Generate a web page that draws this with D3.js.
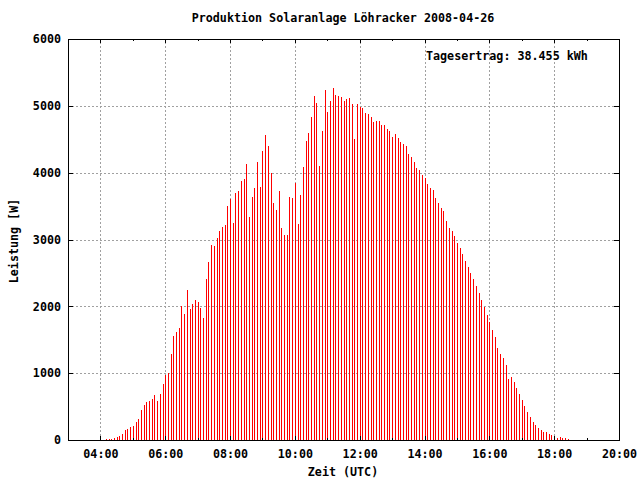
<!DOCTYPE html>
<html><head><meta charset="utf-8">
<script src="https://cdn.jsdelivr.net/npm/d3@7"></script>
<style>
body{margin:0;background:#fff}
text{font-family:"DejaVu Sans Mono",monospace;font-weight:bold;font-size:11.7px;fill:#000}
</style>
</head><body><svg id="c" width="640" height="480" style="background:#fff"></svg>
<script>
// 5-minute sample times (UTC)
const times = [
"04:10","04:15","04:20","04:25","04:30","04:35","04:40","04:45","04:50","04:55",
"05:00","05:05","05:10","05:15","05:20","05:25","05:30","05:35","05:40","05:45","05:50","05:55",
"06:00","06:05","06:10","06:15","06:20","06:25","06:30","06:35","06:40","06:45","06:50","06:55",
"07:00","07:05","07:10","07:15","07:20","07:25","07:30","07:35","07:40","07:45","07:50","07:55",
"08:00","08:05","08:10","08:15","08:20","08:25","08:30","08:35","08:40","08:45","08:50","08:55",
"09:00","09:05","09:10","09:15","09:20","09:25","09:30","09:35","09:40","09:45","09:50","09:55",
"10:00","10:05","10:10","10:15","10:20","10:25","10:30","10:35","10:40","10:45","10:50","10:55",
"11:00","11:05","11:10","11:15","11:20","11:25","11:30","11:35","11:40","11:45","11:50","11:55",
"12:00","12:05","12:10","12:15","12:20","12:25","12:30","12:35","12:40","12:45","12:50","12:55",
"13:00","13:05","13:10","13:15","13:20","13:25","13:30","13:35","13:40","13:45","13:50","13:55",
"14:00","14:05","14:10","14:15","14:20","14:25","14:30","14:35","14:40","14:45","14:50","14:55",
"15:00","15:05","15:10","15:15","15:20","15:25","15:30","15:35","15:40","15:45","15:50","15:55",
"16:00","16:05","16:10","16:15","16:20","16:25","16:30","16:35","16:40","16:45","16:50","16:55",
"17:00","17:05","17:10","17:15","17:20","17:25","17:30","17:35","17:40","17:45","17:50","17:55",
"18:00","18:05","18:10","18:15","18:20","18:25"
];
// Leistung [W]
const power = [
15,15,15,30,45,65,90,150,170,195,
210,270,315,450,520,570,585,615,675,585,690,840,
975,1000,1290,1555,1615,1675,2005,1885,2245,1960,2035,2095,
2065,1975,1825,2410,2665,2920,2905,3015,3134,3194,3224,3507,
3612,3254,3701,3731,3881,3910,4134,3343,3642,3776,4164,3791,
4328,4567,4403,4000,3552,3448,3731,3179,3060,3060,3642,3627,
3851,3239,3672,4090,4478,4597,4836,5149,5045,4104,4627,5239,
4910,5075,5269,5164,5149,5134,5075,5104,5119,5030,4507,5030,
4985,4970,4896,4881,4836,4761,4776,4776,4716,4716,4657,4627,
4537,4582,4522,4463,4433,4403,4284,4239,4164,4075,4045,3970,
3925,3836,3776,3746,3627,3552,3478,3433,3284,3179,3134,3045,
2955,2866,2776,2672,2582,2493,2403,2299,2194,2090,1985,1866,
1761,1642,1537,1373,1284,1224,1119,910,940,866,776,687,
597,507,418,343,269,224,179,149,119,119,90,75,
60,30,45,30,30,15
];
const xMajorTicks = ["04:00","06:00","08:00","10:00","12:00","14:00","16:00","18:00","20:00"];
const xMinorTicks = ["04:00","05:00","06:00","07:00","08:00","09:00","10:00","11:00","12:00","13:00","14:00","15:00","16:00","17:00","18:00","19:00","20:00"];
const xDomain = ["03:00","20:00"];
const yTicks = [0,1000,2000,3000,4000,5000,6000];
const titleText = "Produktion Solaranlage Löhracker 2008-04-26";
const xLabelText = "Zeit (UTC)";
const yLabelText = "Leistung [W]";
const yieldText = "Tagesertrag: 38.455 kWh";

const L=68, R=619, T=39, B=440;
const parse = d3.timeParse("%H:%M");
const fmt = d3.timeFormat("%H:%M");
const x = d3.scaleTime().domain(xDomain.map(parse)).range([L, R]);
const y = d3.scaleLinear().domain([0, 6000]).range([B, T]);
const svg = d3.select("#c");

// grid
const gridCol = "#a0a0a0";
const gx = svg.append("g").attr("transform", `translate(0,${B})`)
  .call(d3.axisBottom(x).tickValues(xMajorTicks.slice(0,-1).map(parse)).tickSize(-(B-T)).tickFormat(""));
gx.select(".domain").remove();
gx.selectAll("line").attr("stroke", gridCol).attr("stroke-dasharray", "2,2").attr("shape-rendering","crispEdges");
const gy = svg.append("g").attr("transform", `translate(${L},0)`)
  .call(d3.axisLeft(y).tickValues(yTicks.slice(1,-1)).tickSize(-(R-L)).tickFormat(""));
gy.select(".domain").remove();
gy.selectAll("line").attr("stroke", gridCol).attr("stroke-dasharray", "2,2").attr("shape-rendering","crispEdges");

// bars (impulses)
svg.append("g").selectAll("rect").data(power).join("rect")
  .attr("x", (d,i) => Math.round(x(parse(times[i]))))
  .attr("width", 1)
  .attr("y", d => Math.round(y(d)))
  .attr("height", d => B - Math.round(y(d)))
  .attr("fill", "#ff0000")
  .attr("shape-rendering","crispEdges");

// axes with inward ticks
function styleAxis(g){ g.select(".domain").remove(); g.selectAll("line").attr("stroke","#000").attr("shape-rendering","crispEdges"); }
const xb = svg.append("g").attr("transform", `translate(0,${B})`)
  .call(d3.axisBottom(x).tickValues(xMajorTicks.map(parse)).tickSize(-4).tickPadding(10).tickFormat(fmt));
styleAxis(xb);
xb.selectAll("text").attr("font-family",null).attr("font-size",null);
svg.append("g").attr("transform", `translate(0,${B})`)
  .call(d3.axisBottom(x).tickValues(xMinorTicks.map(parse)).tickSize(-2).tickFormat("")).call(styleAxis);
svg.append("g").attr("transform", `translate(0,${T})`)
  .call(d3.axisTop(x).tickValues(xMajorTicks.map(parse)).tickSize(-4).tickFormat("")).call(styleAxis);
svg.append("g").attr("transform", `translate(0,${T})`)
  .call(d3.axisTop(x).tickValues(xMinorTicks.map(parse)).tickSize(-2).tickFormat("")).call(styleAxis);
const yl = svg.append("g").attr("transform", `translate(${L},0)`)
  .call(d3.axisLeft(y).tickValues(yTicks).tickSize(-5).tickPadding(7).tickFormat(d3.format("d")));
styleAxis(yl);
yl.selectAll("text").attr("font-family",null).attr("font-size",null);
svg.append("g").attr("transform", `translate(${R},0)`)
  .call(d3.axisRight(y).tickValues(yTicks).tickSize(-5).tickFormat("")).call(styleAxis);

// frame
svg.append("rect").attr("x", L+0.5).attr("y", T+0.5).attr("width", R-L).attr("height", B-T)
  .attr("fill","none").attr("stroke","#000").attr("shape-rendering","crispEdges");

// texts
svg.append("text").attr("x", 343).attr("y", 22).attr("text-anchor","middle").text(titleText);
svg.append("text").attr("x", 343).attr("y", 476).attr("text-anchor","middle").text(xLabelText);
svg.append("text").attr("transform","translate(18,241) rotate(-90)").attr("text-anchor","middle").text(yLabelText);
svg.append("text").attr("x", 426).attr("y", 60).text(yieldText);
</script></body></html>
